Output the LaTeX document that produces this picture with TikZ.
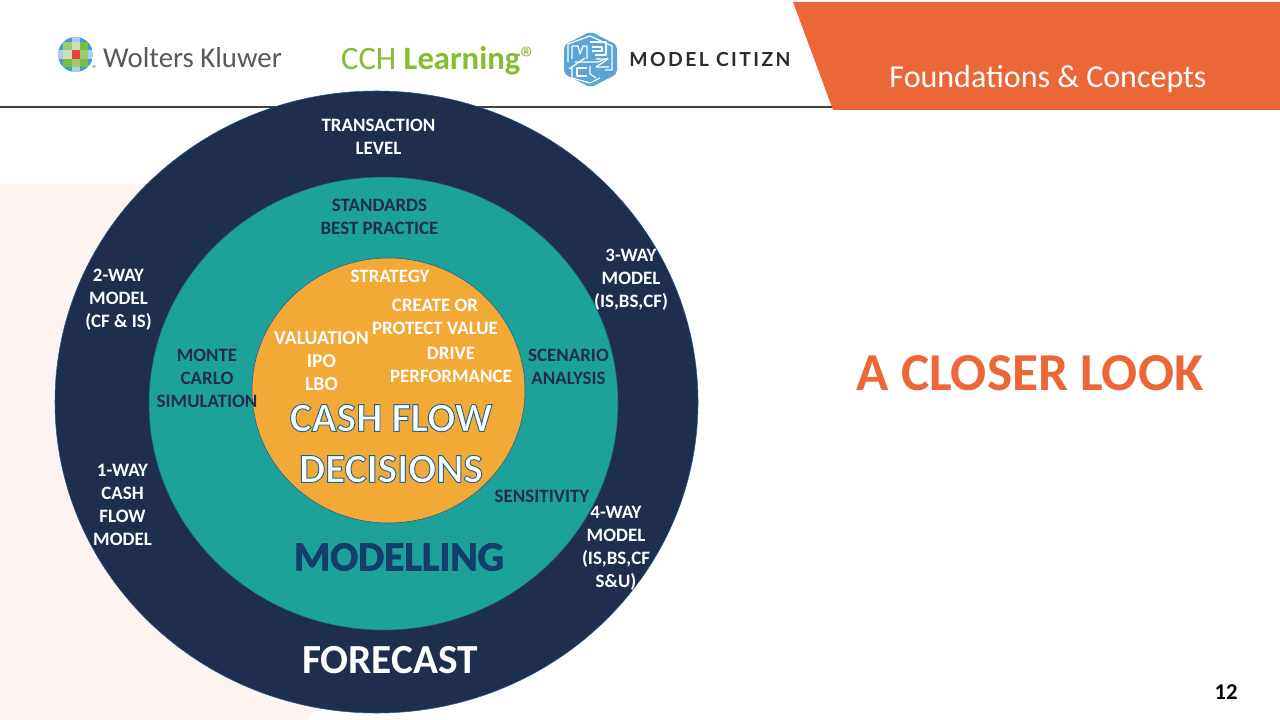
\documentclass[tikz,border=0pt]{standalone}
\usepackage{fontspec}
\setmainfont{Carlito}
\newfontfamily\mcfont[LetterSpace=12.5]{Lato}
\definecolor{navy}{HTML}{1F2D4F}
\definecolor{tealc}{HTML}{1CA19B}
\definecolor{amber}{HTML}{F2A935}
\definecolor{flame}{HTML}{EC6737}
\definecolor{blush}{HTML}{FDF4F1}
\definecolor{ruleg}{HTML}{404040}
\definecolor{ringb}{HTML}{1F5C8A}
\definecolor{modb}{HTML}{153E6B}
\definecolor{cchg}{HTML}{84BD2F}
\definecolor{wkg}{HTML}{58595B}
\definecolor{mcb}{HTML}{5AA5D6}
\definecolor{mck}{HTML}{2B2B2B}
\definecolor{wkb}{HTML}{3F9BD8}
\definecolor{wkl}{HTML}{A9CFEC}
\definecolor{wkn}{HTML}{79BE41}
\definecolor{wkm}{HTML}{9CCC70}
\definecolor{wkp}{HTML}{C9E0B0}
\definecolor{wkr}{HTML}{EF3E42}
\newcommand{\outlined}[1]{\special{pdf:code q 2 Tr 0.7 w 0.10 0.40 0.60 RG}#1\special{pdf:code Q}}
\newcommand{\thickened}[1]{\special{pdf:code q 2 Tr 0.6 w 0.08 0.24 0.42 RG}#1\special{pdf:code Q}}
\newcommand{\wkcell}[5]{\fill[#5] (#1,#2) rectangle (#3,#4);}
\tikzset{
  x=0.75pt,y=-0.75pt,
  lab/.style={inner sep=0pt,align=center,font=\fontsize{14.2}{17.2}\selectfont\bfseries},
  labw/.style={lab,text=white},
  labd/.style={lab,text=navy},
  big/.style={inner sep=0pt,align=center,text=white,font=\fontsize{31}{33}\selectfont\bfseries},
  ring/.style={draw=ringb,line width=0.4pt},
  maze/.style={draw=white,line width=0.9pt,line join=round},
}
\begin{document}
\begin{tikzpicture}
\useasboundingbox (0,0) rectangle (1280,720);
\fill[white] (0,0) rectangle (1280,720);
\fill[blush] (0,184) -- (180,184) -- (320,700) -- (307,720) -- (0,720) -- cycle;
\draw[ruleg,line width=1.5pt] (0,107.5) -- (834,107.5);
\fill[flame] (793,2) -- (1280,2) -- (1280,110) -- (833,110) -- cycle;
\node[inner sep=0pt,text=white,font=\fontsize{24}{26}\selectfont] (section) at (1048,78.5) {Foundations \& Concepts};
% Wolters Kluwer logo
\begin{scope}
\clip (75.5,54.5) circle[radius=17.5];
\fill[wkb] (58,37) rectangle (93,72);
\wkcell{71.5}{37}{80}{42}{wkl}
\wkcell{71.5}{67}{80}{72}{wkl}
\wkcell{58}{50}{63}{59}{wkl}
\wkcell{88}{50}{93}{59}{wkl}
\wkcell{63}{42}{71.5}{50}{wkm}
\wkcell{71.5}{42}{80}{50}{wkp}
\wkcell{80}{42}{88}{50}{wkn}
\wkcell{63}{50}{71.5}{59}{wkp}
\wkcell{71.5}{50}{80}{59}{wkr}
\wkcell{80}{50}{88}{59}{wkm}
\wkcell{63}{59}{71.5}{67}{wkn}
\wkcell{71.5}{59}{80}{67}{wkm}
\wkcell{80}{59}{88}{67}{wkn}
\end{scope}
\fill[wkg!45] (94,66.5) circle[radius=1.8];
\node[inner sep=0pt,text=wkg,font=\fontsize{21.6}{24}\selectfont] (wk) at (192.5,57.5) {Wolters Kluwer};
\node[inner sep=0pt,text=cchg,font=\fontsize{24.5}{27}\selectfont] (cch) at (439,61) {CCH \textbf{Learning}®};
% Model Citizn logo
\fill[mcb,rounded corners=3pt] (590.5,31.5) -- (617,45) -- (617,74) -- (590.5,87.5) -- (564,74) -- (564,45) -- cycle;
\draw[maze] (572,59) -- (572,46) -- (578,46) -- (580,54) -- (583,46) -- (587,46) -- (587,59);
\draw[maze] (568,62) -- (568,44) -- (590,36) -- (612,46) -- (612,70) -- (605,70);
\draw[maze] (590,42) -- (606,42) -- (606,55) -- (595,55);
\draw[maze] (592,47) -- (602,47) -- (602,51) -- (592,51);
\draw[maze] (575,62) -- (598,62) -- (608,58);
\draw[maze] (596,59) -- (608,59) -- (596,67) -- (609,67);
\draw[maze] (569,69) -- (585,58);
\draw[maze] (587,68) -- (577,68) -- (577,76) -- (587,76);
\draw[maze] (572,66) -- (572,78) -- (590,83) -- (600,78);
\draw[maze] (590,66) -- (590,74) -- (596,78);
\node[inner sep=0pt,text=mck,font=\mcfont\fontsize{14.5}{16}\selectfont\bfseries] (mc) at (710,60) {MODEL CITIZN};
% rings
\filldraw[ring,fill=navy] (376.5,402) ellipse[x radius=321.5,y radius=311];
\filldraw[ring,fill=tealc] (383.5,403.5) ellipse[x radius=234.5,y radius=226.5];
\filldraw[ring,fill=amber] (388.5,390.5) ellipse[x radius=136.5,y radius=132.5];
% labels
\node[labw] (trans) at (378.5,137) {TRANSACTION\\LEVEL};
\node[labd] (std) at (379.5,217) {STANDARDS\\BEST PRACTICE};
\node[labw] (w3) at (631,280) {3-WAY\\MODEL\\(IS,BS,CF)};
\node[labw] (w2) at (118.5,300) {2-WAY\\MODEL\\(CF \& IS)};
\node[labd] (monte) at (207,378) {MONTE\\CARLO\\SIMULATION};
\node[labd] (scen) at (568.5,366.5) {SCENARIO\\ANALYSIS};
\node[labw] (w1) at (122.5,505) {1-WAY\\CASH\\FLOW\\MODEL};
\node[labw] (w4) at (616,548) {4-WAY\\MODEL\\(IS,BS,CF\\S\&U)};
\node[labd] (sens) at (542,496) {SENSITIVITY};
\node[labw] (strat) at (390,276) {STRATEGY};
\node[labw] (create) at (435,317) {CREATE OR\\PROTECT VALUE};
\node[labw,font=\fontsize{14.8}{17.2}\selectfont\bfseries] (val) at (321.5,361) {VALUATION\\IPO\\LBO};
\node[labw] (drive) at (451,365) {DRIVE\\PERFORMANCE};
\node[big] (cf) at (391,418) {\outlined{CASH FLOW}};
\node[big] (dec) at (391,469) {\outlined{DECISIONS}};
\node[big,text=modb] (mod) at (399,557) {\thickened{MODELLING}};
\node[big] (fore) at (390,660) {FORECAST};
\node[inner sep=0pt,text=flame,font=\fontsize{40}{42}\selectfont\bfseries] (look) at (1030,373) {A CLOSER LOOK};
\node[inner sep=0pt,text=black,font=\fontsize{17}{19}\selectfont\bfseries] (pg) at (1226,692) {12};
\end{tikzpicture}
\end{document}
